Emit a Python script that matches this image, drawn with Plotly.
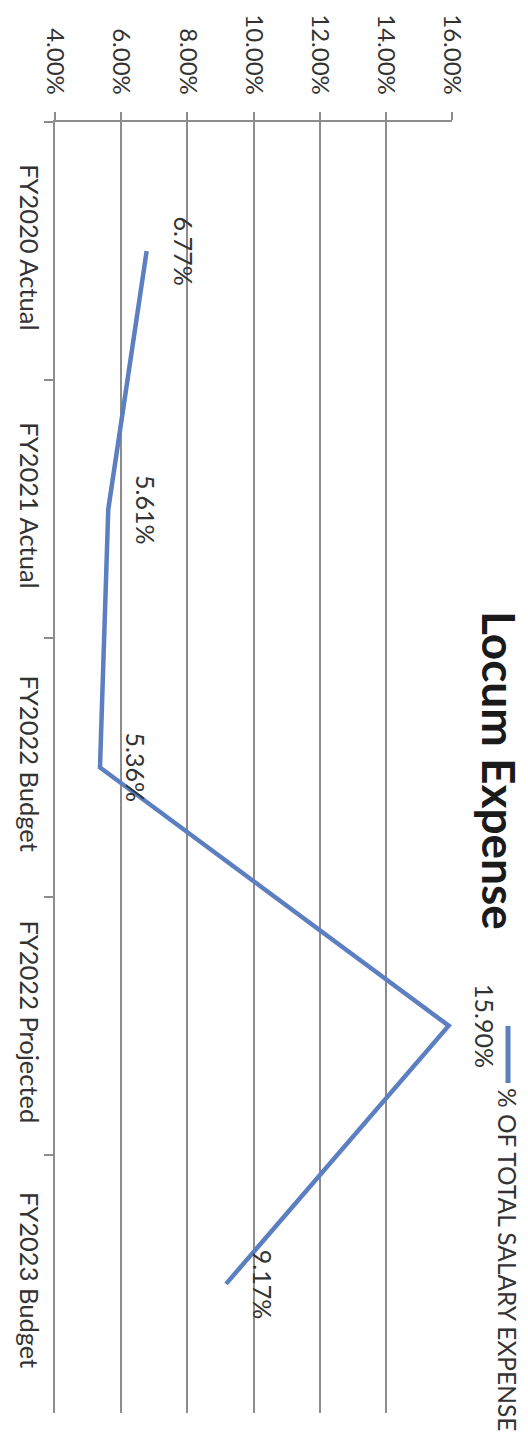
import plotly.graph_objects as go

# Locum expense as a share of total salary expense (percent)
categories = ["FY2020 Actual", "FY2021 Actual", "FY2022 Budget",
              "FY2022 Projected", "FY2023 Budget"]
pct_values = [6.77, 5.61, 5.36, 15.90, 9.17]
value_ticks = [4, 6, 8, 10, 12, 14, 16]
value_tick_text = ["4.00%", "6.00%", "8.00%", "10.00%", "12.00%", "14.00%", "16.00%"]
series_name = "% OF TOTAL SALARY EXPENSE"
title_text = "Locum Expense"

LINE_BLUE = "#5b7fc0"
GRID = "#8c8c8c"
TEXT = "#333333"
FONT = "Lato, Open Sans, sans-serif"

W, H = 528, 1438
L, R, T, B = 55, 76, 122, 25
plot_w = W - L - R
plot_h = H - T - B


def px_to_paper_x(px):
    return (px - L) / plot_w


def px_to_paper_y(py):
    return (H - B - py) / plot_h


fig = go.Figure()
fig.add_trace(go.Scatter(
    x=pct_values, y=categories, mode="lines",
    line=dict(color=LINE_BLUE, width=4.5),
    name=series_name, showlegend=False, hoverinfo="skip",
))

# value labels, drawn rotated beside each point
for cat, val in zip(categories, pct_values):
    fig.add_annotation(
        x=val, y=cat, xref="x", yref="y",
        text=f"{val:.2f}%", showarrow=False, textangle=90,
        xanchor="center", yanchor="middle", xshift=37,
        font=dict(family=FONT, size=25, color=TEXT),
    )

# chart title
fig.add_annotation(
    x=px_to_paper_x(500), y=px_to_paper_y(770), xref="paper", yref="paper",
    text=f"<b>{title_text}</b>", showarrow=False, textangle=90,
    xanchor="center", yanchor="middle",
    font=dict(family=FONT, size=46, color="#1a1a1a"),
)

# legend entry: line swatch plus series name
fig.add_shape(
    type="line", xref="paper", yref="paper",
    x0=px_to_paper_x(508), x1=px_to_paper_x(508),
    y0=px_to_paper_y(1026), y1=px_to_paper_y(1083),
    line=dict(color=LINE_BLUE, width=5),
)
fig.add_annotation(
    x=px_to_paper_x(508), y=px_to_paper_y(1259), xref="paper", yref="paper",
    text=series_name, showarrow=False, textangle=90,
    xanchor="center", yanchor="middle",
    font=dict(family=FONT, size=24.5, color=TEXT),
)

fig.update_xaxes(
    range=[4, 16], side="top", tickvals=value_ticks, ticktext=value_tick_text,
    tickangle=90, automargin=False,
    showline=True, linecolor=GRID, linewidth=1.5,
    ticks="outside", ticklen=8, tickcolor=GRID, tickwidth=1.5,
    showgrid=True, gridcolor=GRID, gridwidth=1.5,
    zeroline=False, ticklabelstandoff=9,
    tickfont=dict(family=FONT, size=24, color=TEXT),
)
fig.update_yaxes(
    type="category", categoryorder="array", categoryarray=categories,
    range=[len(categories) - 0.5, -0.5], tickangle=90, automargin=False,
    showline=True, linecolor=GRID, linewidth=1.5,
    ticks="outside", tickson="boundaries", ticklen=9,
    tickcolor=GRID, tickwidth=1.5,
    showgrid=False, zeroline=False, ticklabelstandoff=3,
    tickfont=dict(family=FONT, size=25.5, color=TEXT),
)

fig.update_layout(
    width=W, height=H,
    margin=dict(l=L, r=R, t=T, b=B),
    paper_bgcolor="white", plot_bgcolor="white",
    showlegend=False,
)

fig.write_html("out.html")
